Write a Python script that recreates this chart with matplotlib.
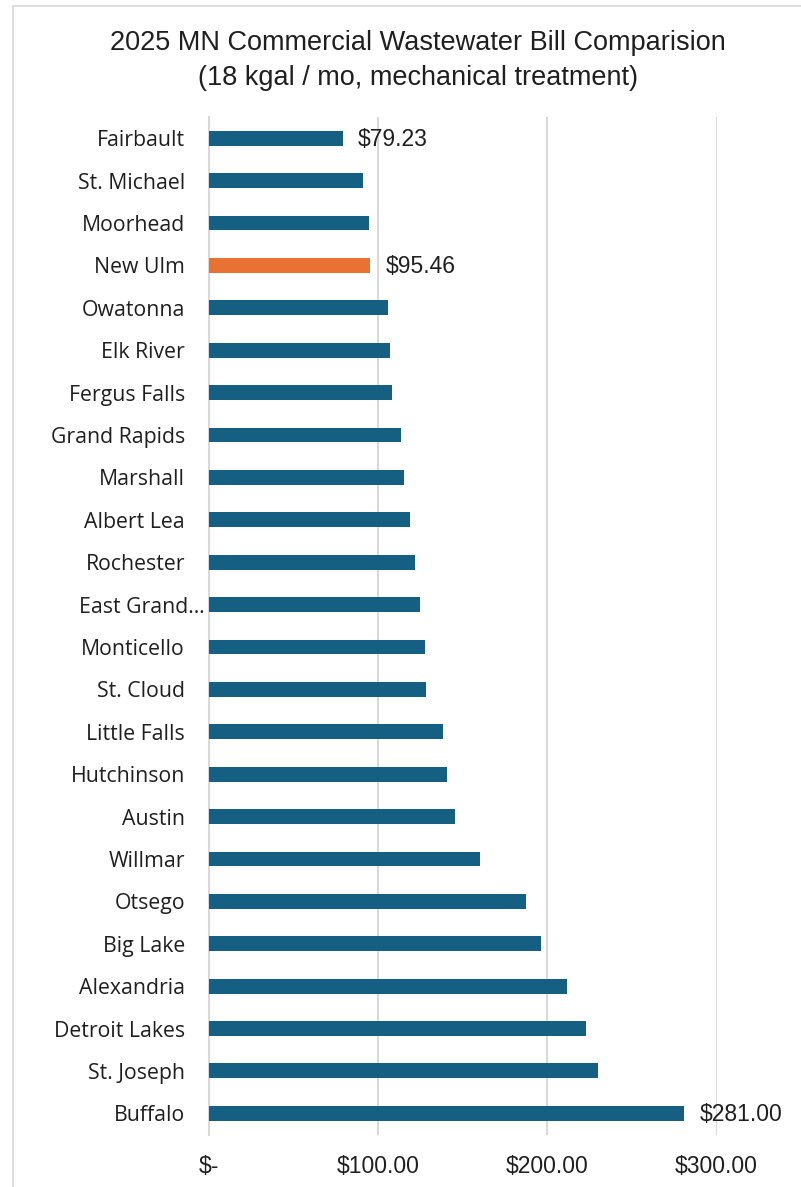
"""Horizontal bar chart: 2025 MN commercial wastewater bill comparison."""

import matplotlib

matplotlib.use("Agg")
from matplotlib import pyplot as plt  # noqa: E402
from matplotlib.patches import Rectangle  # noqa: E402
from matplotlib.transforms import ScaledTranslation  # noqa: E402

CITIES = [
    "Fairbault", "St. Michael", "Moorhead", "New Ulm", "Owatonna", "Elk River",
    "Fergus Falls", "Grand Rapids", "Marshall", "Albert Lea", "Rochester",
    "East Grand…", "Monticello", "St. Cloud", "Little Falls", "Hutchinson",
    "Austin", "Willmar", "Otsego", "Big Lake", "Alexandria", "Detroit Lakes",
    "St. Joseph", "Buffalo",
]
BILLS = [
    79.23, 91.4, 94.6, 95.46, 105.8, 107.4, 108.4, 113.5, 115.4, 119.0, 122.2,
    124.7, 127.8, 128.4, 138.5, 141.1, 145.8, 160.2, 187.6, 196.6, 211.8,
    222.9, 230.0, 281.00,
]
HIGHLIGHT = "New Ulm"
LABELED = ["Fairbault", "New Ulm", "Buffalo"]
X_TICKS = [0, 100, 200, 300]
X_TICK_LABELS = ["$-", "$100.00", "$200.00", "$300.00"]

BLUE = "#156082"
ORANGE = "#E97132"
GRID = "#D9D9D9"
TEXT = "#1F1F1F"
LABEL_FONT = ["Open Sans", "DejaVu Sans"]
NUM_FONT = ["Liberation Sans", "DejaVu Sans"]
TITLE_FONT = ["Liberation Sans", "DejaVu Sans"]

fig = plt.figure(figsize=(8.01, 11.87), dpi=100)
fig.patches.append(
    Rectangle((13 / 801, -0.01), 1.0, 1 - 6 / 1187 + 0.01, transform=fig.transFigure,
              facecolor="none", edgecolor=GRID, linewidth=1.2)
)
ax = fig.add_axes([208.5 / 801, 52.5 / 1187, (716.6 - 208.5) / 801, 1017.5 / 1187])

positions = list(range(len(CITIES)))
colors = [ORANGE if c == HIGHLIGHT else BLUE for c in CITIES]
ax.barh(positions, BILLS, height=0.35, color=colors, zorder=3)

for pos, city, value in zip(positions, CITIES, BILLS):
    if city in LABELED:
        ax.annotate(f"${value:,.2f}", (value, pos), xytext=(11, -1),
                    textcoords="offset points", ha="left", va="center",
                    fontsize=16.5, family=NUM_FONT, color=TEXT, annotation_clip=False)

ax.set_ylim(len(CITIES) - 0.5, -0.5)
ax.set_xlim(0, 300)
ax.set_yticks(positions)
ax.set_yticklabels(CITIES, family=LABEL_FONT, fontsize=15.3, color=TEXT)
ax.set_xticks(X_TICKS)
ax.set_xticklabels(X_TICK_LABELS, family=NUM_FONT, fontsize=16.5, color=TEXT)
ax.tick_params(axis="y", length=0, pad=17)
ax.tick_params(axis="x", length=0, pad=15)

# the truncated label sits a bit further right in the source chart
for label in ax.get_yticklabels():
    if label.get_text().startswith("East Grand"):
        label.set_transform(label.get_transform()
                            + ScaledTranslation(20 / 100, 0, fig.dpi_scale_trans))

ax.grid(axis="x", color=GRID, linewidth=1.5, zorder=0)
for side in ("top", "right", "bottom"):
    ax.spines[side].set_visible(False)
ax.spines["left"].set_color(GRID)
ax.spines["left"].set_linewidth(1.5)

fig.text(418 / 801, 1 - 43 / 1187, "2025 MN Commercial Wastewater Bill Comparision",
         ha="center", va="center", fontsize=19.5, family=TITLE_FONT, color=TEXT)
fig.text(418 / 801, 1 - 78 / 1187, "(18 kgal / mo, mechanical treatment)",
         ha="center", va="center", fontsize=19.5, family=TITLE_FONT, color=TEXT)

fig.savefig("out.png", dpi=100, facecolor="white")
